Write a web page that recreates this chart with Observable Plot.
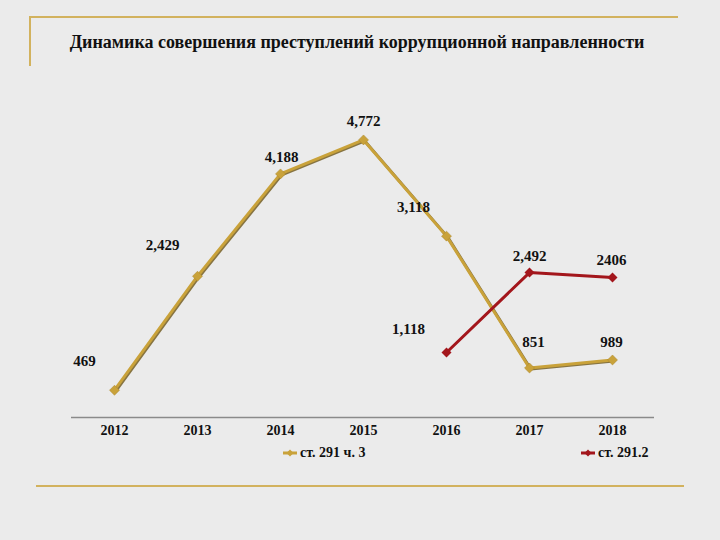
<!DOCTYPE html>
<html><head><meta charset="utf-8">
<script src="https://cdn.jsdelivr.net/npm/d3@7"></script>
<script src="https://cdn.jsdelivr.net/npm/@observablehq/plot@0.6"></script>
<style>
body{margin:0;background:#ebebeb;}
#wrap{position:relative;width:720px;height:540px;overflow:hidden;background:#ebebeb;font-family:"Liberation Serif","Times New Roman",serif;}
.deco{position:absolute;background:#d2b25e;}
#title{position:absolute;left:0;width:714px;top:32px;text-align:center;font-weight:bold;font-size:18px;color:#111;z-index:2;}
#chart{position:absolute;left:0;top:0;}
.leg{position:absolute;top:445px;font-weight:bold;font-size:14px;color:#111;display:flex;align-items:center;z-index:2;}
.leg svg{margin-right:2px;}
</style></head><body>
<div id="wrap">
  <div class="deco" style="left:30px;top:16px;width:648px;height:2px"></div>
  <div class="deco" style="left:29px;top:16px;width:2px;height:50px"></div>
  <div class="deco" style="left:36px;top:485px;width:648px;height:2px"></div>
  <div id="title">Динамика совершения преступлений коррупционной направленности</div>
  <div id="chart"></div>
  <div id="legend"></div>
</div>
<script>
const years = ["2012","2013","2014","2015","2016","2017","2018"];
const art291Values = [469, 2429, 4188, 4772, 3118, 851, 989];
const art291Labels = ["469","2,429","4,188","4,772","3,118","851","989"];
const art2912Years = ["2016","2017","2018"];
const art2912Values = [1118, 2492, 2406];
const art2912Labels = ["1,118","2,492","2406"];
const seriesNames = ["ст. 291 ч. 3","ст. 291.2"];

const gold = "#c9a23a", goldDark = "#6e5618", red = "#a3161c";
const s1 = years.map((y,i)=>({year:y, value:art291Values[i], label:art291Labels[i]}));
const s2 = art2912Years.map((y,i)=>({year:y, value:art2912Values[i], label:art2912Labels[i]}));

// label offsets (layout only)
const off1 = [[-30,-29],[-35,-31],[1,-17],[0,-19],[-33,-29],[4,-26],[-1,-18]];
const off2 = [[-38,-23],[0,-16],[-1,-17]];

const labelStyle = {fontSize:15, fontWeight:"bold", fill:"#111", fontFamily:"Liberation Serif, Times New Roman, serif"};

const marks = [
  Plot.ruleY([0], {stroke:"#8a8a8a", strokeWidth:1.5}),
  Plot.line(s1, {x:"year", y:"value", stroke:goldDark, strokeWidth:3, dx:1.2, dy:1, strokeOpacity:0.8}),
  Plot.line(s1, {x:"year", y:"value", stroke:gold, strokeWidth:3}),
  Plot.dot(s1, {x:"year", y:"value", symbol:"diamond2", r:4.5, fill:gold, stroke:"#a8842a", strokeWidth:0.5}),
  Plot.line(s2, {x:"year", y:"value", stroke:red, strokeWidth:3}),
  Plot.dot(s2, {x:"year", y:"value", symbol:"diamond2", r:4.5, fill:red}),
  ...s1.map((d,i)=>Plot.text([d], {x:"year", y:"value", text:"label", dx:off1[i][0], dy:off1[i][1], ...labelStyle})),
  ...s2.map((d,i)=>Plot.text([d], {x:"year", y:"value", text:"label", dx:off2[i][0], dy:off2[i][1], ...labelStyle})),
  Plot.axisX({tickSize:0, tickPadding:8, fontSize:14, fontWeight:"bold", label:null, fill:"#111"})
];

const chart = Plot.plot({
  width:720, height:540,
  marginLeft:71, marginRight:66, marginTop:68, marginBottom:123,
  style:{background:"transparent", fontFamily:"Liberation Serif, Times New Roman, serif", color:"#111"},
  x:{type:"point", domain:years, padding:0.5},
  y:{domain:[0,6000], axis:null},
  marks
});
document.getElementById("chart").appendChild(chart);

const legendColors = [gold, red];
const legendLeft = [282, 580];
seriesNames.forEach((name,i)=>{
  const div = document.createElement("div");
  div.className = "leg";
  div.style.left = legendLeft[i] + "px";
  div.innerHTML = `<svg width="16" height="12"><line x1="1" y1="6" x2="15" y2="6" stroke="${legendColors[i]}" stroke-width="3"/><path d="M8 2.5 L11.5 6 L8 9.5 L4.5 6Z" fill="${legendColors[i]}"/></svg><span>${name}</span>`;
  document.getElementById("legend").appendChild(div);
});
</script>
</body></html>
